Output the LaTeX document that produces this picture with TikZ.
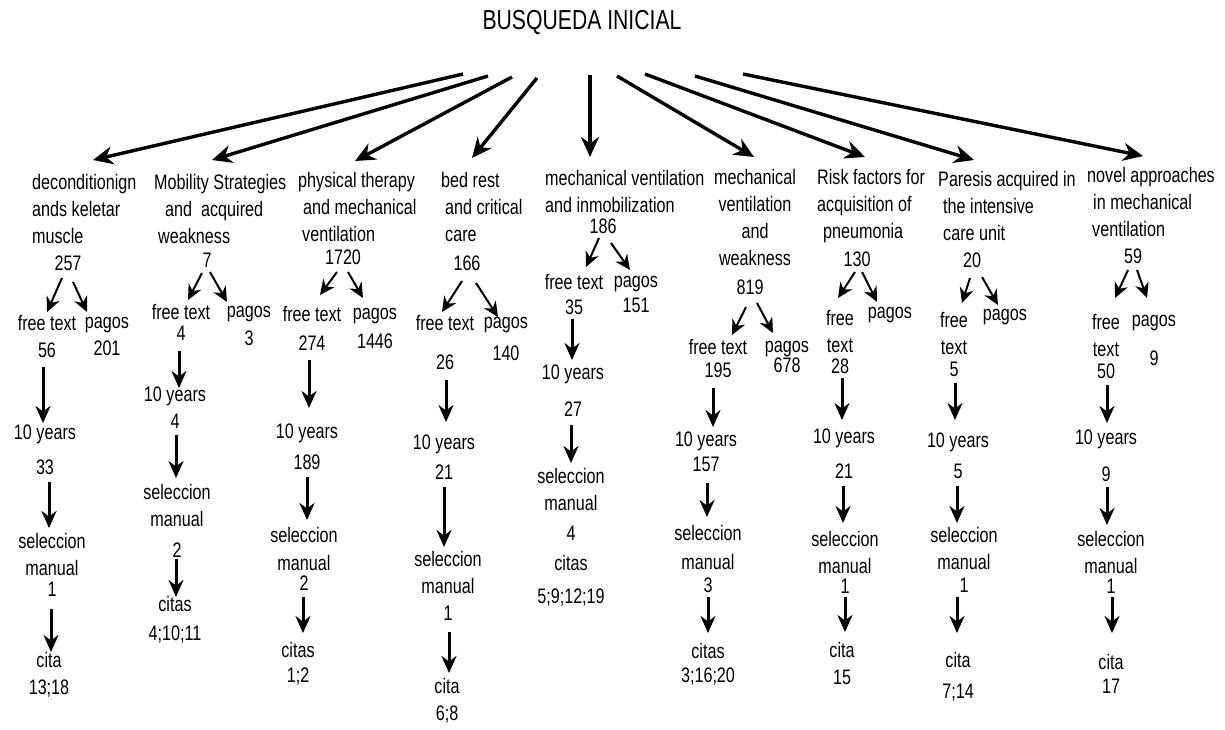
\documentclass[tikz,border=0pt]{standalone}
\usepackage{fontspec}
\setmainfont{Liberation Sans}[FakeStretch=0.77]
\usetikzlibrary{arrows.meta}
\newcommand\arw[5]{\draw[#1] ([shift={#3}]#2) -- ([shift={#5}]#4);}
\begin{document}
\begin{tikzpicture}[x=1pt,y=-1pt,
  tx/.style={font=\fontsize{21}{27}\selectfont, inner sep=0pt, align=center, text=black},
  tl/.style={tx, align=left, anchor=west},
  big/.style={line width=3.4pt, -{Stealth[length=20pt,width=18pt]}},
  sm/.style={line width=2pt, -{Stealth[length=15pt,width=14pt]}},
  va/.style={line width=3pt, -{Stealth[length=17pt,width=15pt]}}]
\fill[white] (0,0) rectangle (1225,729);
\useasboundingbox (0,0) rectangle (1225,729);

\node[font=\fontsize{27.5}{30}\selectfont, inner sep=0pt, text=black] (B) at (582,22) {BUSQUEDA INICIAL};

% column 1
\node[tl] (T1) at (32,209) {deconditionign\\ands keletar\\muscle};
\node[tx] (C1) at (68,263) {257};
\node[tx] (F1) at (47,336) {free text\\56};
\node[tx] (P1) at (107,336) {pagos\\201};
\node[tx] (Y1) at (45,450) {10 years\\[8pt]33};
\node[tx] (S1) at (52,565) {seleccion\\manual\\[-6pt]1};
\node[tx] (K1) at (49,675) {cita\\13;18};
% column 2
\node[tl] (T2) at (154,209) {Mobility Strategies\\\hspace*{11pt}and\ \ acquired\\\hspace*{4pt}weakness};
\node[tx] (C2) at (207,260) {7};
\node[tx] (F2) at (181,322) {free text\\[-6pt]4};
\node[tx] (P2) at (249,326) {pagos\\[1pt]3};
\node[tx] (Y2) at (175,408) {10 years\\4};
\node[tx] (S2) at (177,521) {seleccion\\manual\\[4pt]2};
\node[tx] (K2) at (175,620) {citas\\[2pt]4;10;11};
% column 3
\node[tl] (T3) at (298,207) {physical therapy\\\hspace*{5pt}and mechanical\\\hspace*{4pt}ventilation};
\node[tx] (C3) at (343,257) {1720};
\node[tx] (F3) at (312,328) {free text\\[2pt]274};
\node[tx] (P3) at (375,328) {pagos\\[2pt]1446};
\node[tx] (Y3) at (307,447) {10 years\\[4pt]189};
\node[tx] (S3) at (304,559) {seleccion\\[1pt]manual\\[-7pt]2};
\node[tx] (K3) at (298,664) {citas\\[-2pt]1;2};
% column 4
\node[tl] (T4) at (441,207) {bed rest\\\hspace*{4pt}and critical\\\hspace*{4pt}care};
\node[tx] (C4) at (467,263) {166};
\node[tx] (F4) at (445,342) {free text\\[12pt]26};
\node[tx] (P4) at (506,339) {pagos\\[5pt]140};
\node[tx] (Y4) at (444,457) {10 years\\[3pt]21};
\node[tx] (S4) at (448,586) {seleccion\\manual\\1};
\node[tx] (K4) at (447,701) {cita\\6;8};
% column 5
\node[tl] (T5) at (545,191) {mechanical ventilation\\and inmobilization};
\node[tx] (C5) at (603,226) {186};
\node[tx] (F5) at (574,294) {free text\\[-2pt]35};
\node[tx] (P5) at (636,294) {pagos\\[-2pt]151};
\node[tx] (Y5) at (573,391) {10 years\\[10pt]27};
\node[tx] (S5) at (571,504) {seleccion\\manual\\[3pt]4};
\node[tx] (K5) at (571,581) {citas\\[6pt]5;9;12;19};
% column 6
\node[tx] (T6) at (755,217) {mechanical\\ventilation\\and\\weakness};
\node[tx] (C6) at (750,287) {819};
\node[tx] (F6) at (718,358) {free text\\[-4pt]195};
\node[tx] (P6) at (787,357) {pagos\\[-7pt]678};
\node[tx] (Y6) at (706,452) {10 years\\[-2pt]157};
\node[tx] (S6) at (708,559) {seleccion\\[2pt]manual\\[-4pt]3};
\node[tx] (K6) at (708,664) {citas\\[-3pt]3;16;20};
% column 7
\node[tl] (T7) at (817,206) {Risk factors for\\acquisition of\\\hspace*{6pt}pneumonia};
\node[tx] (C7) at (857,259) {130};
\node[tx] (F7) at (840,342) {free\\text\\[-6pt]28};
\node[tx] (P7) at (890,315) {pagos};
\node[tx] (Y7) at (844,454) {10 years\\[8pt]21};
\node[tx] (S7) at (845,562) {seleccion\\manual\\[-7pt]1};
\node[tx] (K7) at (842,663) {cita\\15};
% column 8
\node[tl] (T8) at (938,206) {Paresis acquired in\\\hspace*{5pt}the intensive\\\hspace*{5pt}care unit};
\node[tx] (C8) at (972,260) {20};
\node[tx] (F8) at (954,344) {free\\text\\[-5pt]5};
\node[tx] (P8) at (1005,317) {pagos};
\node[tx] (Y8) at (958,456) {10 years\\[4pt]5};
\node[tx] (S8) at (964,560) {seleccion\\manual\\[-4pt]1};
\node[tx] (K8) at (958,677) {cita\\[4pt]7;14};
% column 9
\node[tl] (T9) at (1087,202) {novel approaches\\\hspace*{6pt}in mechanical\\\hspace*{5pt}ventilation};
\node[tx] (C9) at (1133,256) {59};
\node[tx] (F9) at (1106,346) {free\\text\\[-5pt]50};
\node[tx] (P9) at (1154,340) {pagos\\[12pt]9};
\node[tx] (Y9) at (1106,456) {10 years\\[10pt]9};
\node[tx] (S9) at (1111,562) {seleccion\\manual\\[-7pt]1};
\node[tx] (K9) at (1111,674) {cita\\[-3pt]17};

% main arrows
\arw{big}{B.center}{(-119,52)}{T1.west}{(61,-49)}
\arw{big}{B.center}{(-94,54)}{T2.west}{(58,-49)}
\arw{big}{B.center}{(-70,55)}{T3.west}{(57,-46)}
\arw{big}{B.center}{(-45,56)}{T4.west}{(31,-49)}
\arw{big}{B.center}{(8,53)}{T5.west}{(45,-34)}
\arw{big}{B.center}{(35,54)}{T6.center}{(-1,-60)}
\arw{big}{B.center}{(63,52)}{T7.west}{(48,-49)}
\arw{big}{B.center}{(113,54)}{T8.west}{(36,-46)}
\arw{big}{B.center}{(161,52)}{T9.west}{(56,-46)}

% split arrows
\arw{sm}{C1.center}{(-6,15)}{F1.center}{(0,-24)}
\arw{sm}{C1.center}{(5,19)}{P1.center}{(-20,-24)}
\arw{sm}{C2.center}{(-5,13)}{F2.center}{(7,-22)}
\arw{sm}{C2.center}{(3,12)}{P2.center}{(-22,-24)}
\arw{sm}{C3.center}{(-6,15)}{F3.center}{(8,-33)}
\arw{sm}{C3.center}{(5,15)}{P3.center}{(-12,-30)}
\arw{sm}{C4.center}{(-5,18)}{F4.center}{(-3,-30)}
\arw{sm}{C4.center}{(9,20)}{P4.center}{(-8,-22)}
\arw{sm}{C5.center}{(-4,12)}{F5.center}{(12,-27)}
\arw{sm}{C5.center}{(8,17)}{P5.center}{(-6,-24)}
\arw{sm}{C6.center}{(-4,20)}{F6.center}{(14,-23)}
\arw{sm}{C6.center}{(7,16)}{P6.center}{(-14,-24)}
\arw{sm}{C7.center}{(-2,13)}{F7.center}{(-2,-44)}
\arw{sm}{C7.center}{(5,13)}{P7.center}{(-13,-13)}
\arw{sm}{C8.center}{(-2,18)}{F8.center}{(8,-41)}
\arw{sm}{C8.center}{(10,17)}{P8.center}{(-7,-12)}
\arw{sm}{C9.center}{(-5,14)}{F9.center}{(9,-48)}
\arw{sm}{C9.center}{(4,14)}{P9.center}{(-7,-42)}

% vertical arrows
\arw{va}{F1.center}{(-4,31)}{Y1.center}{(-2,-27)}
\arw{va}{Y1.center}{(4,32)}{S1.center}{(-3,-37)}
\arw{va}{S1.center}{(-1,44)}{K1.center}{(2,-23)}
\arw{va}{F2.center}{(-2,29)}{Y2.center}{(4,-20)}
\arw{va}{Y2.center}{(1,27)}{S2.center}{(-1,-43)}
\arw{va}{S2.center}{(-1,38)}{K2.center}{(1,-23)}
\arw{va}{F3.center}{(-3,32)}{Y3.center}{(2,-39)}
\arw{va}{Y3.center}{(0,30)}{S3.center}{(3,-39)}
\arw{va}{S3.center}{(-1,38)}{K3.center}{(5,-31)}
\arw{va}{F4.center}{(1,38)}{Y4.center}{(2,-35)}
\arw{va}{Y4.center}{(0,30)}{S4.center}{(-4,-39)}
\arw{va}{S4.center}{(1,46)}{K4.center}{(2,-28)}
\arw{va}{F5.center}{(-2,25)}{Y5.center}{(-1,-31)}
\arw{va}{Y5.center}{(-2,34)}{S5.center}{(0,-41)}
\arw{va}{F6.center}{(-5,30)}{Y6.center}{(7,-25)}
\arw{va}{Y6.center}{(1,31)}{S6.center}{(-1,-42)}
\arw{va}{S6.center}{(0,38)}{K6.center}{(0,-31)}
\arw{va}{F7.center}{(2,36)}{Y7.center}{(-2,-34)}
\arw{va}{Y7.center}{(-1,32)}{S7.center}{(-2,-39)}
\arw{va}{S7.center}{(0,35)}{K7.center}{(3,-31)}
\arw{va}{F8.center}{(1,39)}{Y8.center}{(-3,-36)}
\arw{va}{Y8.center}{(-1,30)}{S8.center}{(-7,-37)}
\arw{va}{S8.center}{(-7,37)}{K8.center}{(-1,-44)}
\arw{va}{F9.center}{(1,39)}{Y9.center}{(1,-33)}
\arw{va}{Y9.center}{(1,31)}{S9.center}{(-4,-37)}
\arw{va}{S9.center}{(1,35)}{K9.center}{(1,-41)}
\end{tikzpicture}
\end{document}
